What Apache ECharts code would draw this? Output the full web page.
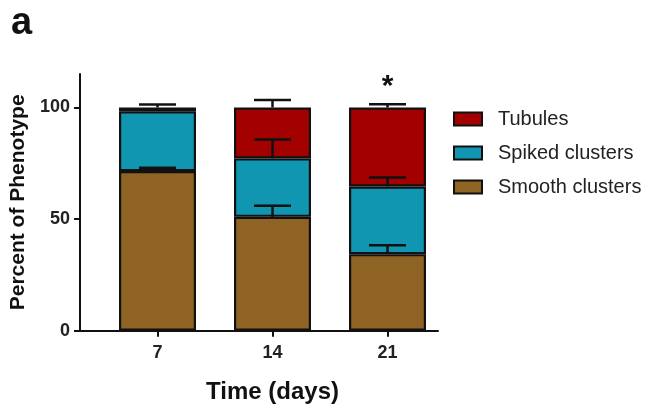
<!DOCTYPE html>
<html>
<head>
<meta charset="utf-8">
<script src="https://cdn.jsdelivr.net/npm/echarts@6/dist/echarts.min.js"></script>
<style>
  html, body { margin: 0; padding: 0; background: #fff; }
  #chart { width: 648px; height: 414px; }
</style>
</head>
<body>
<div id="chart"></div>
<script>
(function () {
  var myChart = echarts.init(document.getElementById('chart'));

  // time points
  var days = ['7', '14', '21'];
  // mean percentages, bottom to top of each stack
  var smooth = [71.5, 51.0, 34.3];
  var spiked = [26.8, 26.2, 30.3];
  var tubules = [1.7, 22.8, 35.4];
  // error (upper bar only)
  var smoothErr = [1.5, 5.0, 4.0];
  var spikedErr = [0, 8.5, 4.0];
  var tubulesErr = [1.3, 3.3, 1.5];
  var signif = ['', '', '*'];
  var yTicks = [0, 50, 100];

  var font = 'Liberation Sans, Arial, Helvetica, sans-serif';
  var colSmooth = '#8f6323';
  var colSpiked = '#1196b1';
  var colTubules = '#a30000';

  // cumulative tops for the error bars
  function errData(base, vals, errs) {
    return vals.map(function (v, i) {
      var top = base[i] + v;
      return [i, top, top + errs[i]];
    });
  }
  var zeros = [0, 0, 0];
  var top1 = smooth.slice();
  var top2 = smooth.map(function (v, i) { return v + spiked[i]; });

  function renderErr(params, api) {
    var x = api.value(0);
    var p0 = api.coord([x, api.value(1)]);
    var p1 = api.coord([x, api.value(2)]);
    var half = 18.5;
    var style = { stroke: '#111', lineWidth: 2.5 };
    var kids = [];
    if (api.value(2) > api.value(1)) {
      kids.push({ type: 'line', shape: { x1: p0[0], y1: p0[1], x2: p1[0], y2: p1[1] }, style: style });
      kids.push({ type: 'line', shape: { x1: p1[0] - half, y1: p1[1], x2: p1[0] + half, y2: p1[1] }, style: style });
    }
    return { type: 'group', children: kids };
  }

  function renderErrTop(params, api) {
    var g = renderErr(params, api);
    var s = signif[params.dataIndex];
    if (s) {
      var p1 = api.coord([api.value(0), api.value(2)]);
      g.children.push({
        type: 'text',
        style: { text: s, x: p1[0], y: p1[1] - 2, align: 'center', verticalAlign: 'bottom',
          font: 'bold 30px ' + font, fill: '#111' }
      });
    }
    return g;
  }

  var barBorder = { borderColor: '#111', borderWidth: 2.2 };

  var option = {
    animation: false,
    title: {
      text: 'a', left: 6, top: 0,
      textStyle: { fontFamily: font, fontWeight: 'bold', fontSize: 38, color: '#111' }
    },
    legend: {
      orient: 'vertical', left: 448, top: 104,
      itemWidth: 28, itemHeight: 13, itemGap: 14,
      icon: 'rect',
      data: ['Tubules', 'Spiked clusters', 'Smooth clusters'],
      textStyle: { fontFamily: font, fontSize: 20, color: '#222', padding: [0, 0, 0, 11] }
    },
    grid: [
      { left: 100, width: 345, top: 74, bottom: 83.3 },
      { left: 80, width: 358, top: 74, bottom: 83.3 }
    ],
    xAxis: [{
      type: 'category', gridIndex: 0, data: days,
      name: 'Time (days)', nameLocation: 'middle', nameGap: 50,
      nameTextStyle: { fontFamily: font, fontWeight: 'bold', fontSize: 24, color: '#111' },
      axisLine: { show: false },
      axisTick: { show: true, alignWithLabel: true, length: 6, lineStyle: { color: '#111', width: 2 } },
      axisLabel: { margin: 13, fontFamily: font, fontWeight: 'bold', fontSize: 18, color: '#222' }
    }, {
      type: 'value', gridIndex: 1, min: 0, max: 1,
      axisLine: { show: true, lineStyle: { color: '#111', width: 2 } },
      axisTick: { show: false }, axisLabel: { show: false }, splitLine: { show: false }
    }],
    yAxis: [{
      type: 'value', gridIndex: 0, min: 0, max: 115, offset: 20,
      name: 'Percent of Phenotype', nameLocation: 'middle', nameGap: 45,
      nameTextStyle: { fontFamily: font, fontWeight: 'bold', fontSize: 21, color: '#111' },
      axisLine: { show: true, lineStyle: { color: '#111', width: 2 } },
      axisTick: { show: true, length: 6, customValues: yTicks, lineStyle: { color: '#111', width: 2 } },
      axisLabel: { customValues: yTicks, margin: 10, fontFamily: font, fontWeight: 'bold', fontSize: 18, color: '#222' },
      splitLine: { show: false }
    }, {
      type: 'value', gridIndex: 1, min: 0, max: 115, show: false
    }],
    series: [{
      name: 'Smooth clusters', type: 'bar', stack: 'p', barWidth: 77,
      itemStyle: Object.assign({ color: colSmooth }, barBorder), data: smooth
    }, {
      name: 'Spiked clusters', type: 'bar', stack: 'p', barWidth: 77,
      itemStyle: Object.assign({ color: colSpiked }, barBorder), data: spiked
    }, {
      name: 'Tubules', type: 'bar', stack: 'p', barWidth: 77,
      itemStyle: Object.assign({ color: colTubules }, barBorder), data: tubules
    }, {
      type: 'custom', renderItem: renderErr, z: 5,
      data: errData(zeros, smooth, smoothErr)
    }, {
      type: 'custom', renderItem: renderErr, z: 5,
      data: errData(top1, spiked, spikedErr)
    }, {
      type: 'custom', renderItem: renderErrTop, z: 5,
      data: errData(top2, tubules, tubulesErr)
    }]
  };
  myChart.setOption(option);
})();
</script>
</body>
</html>
